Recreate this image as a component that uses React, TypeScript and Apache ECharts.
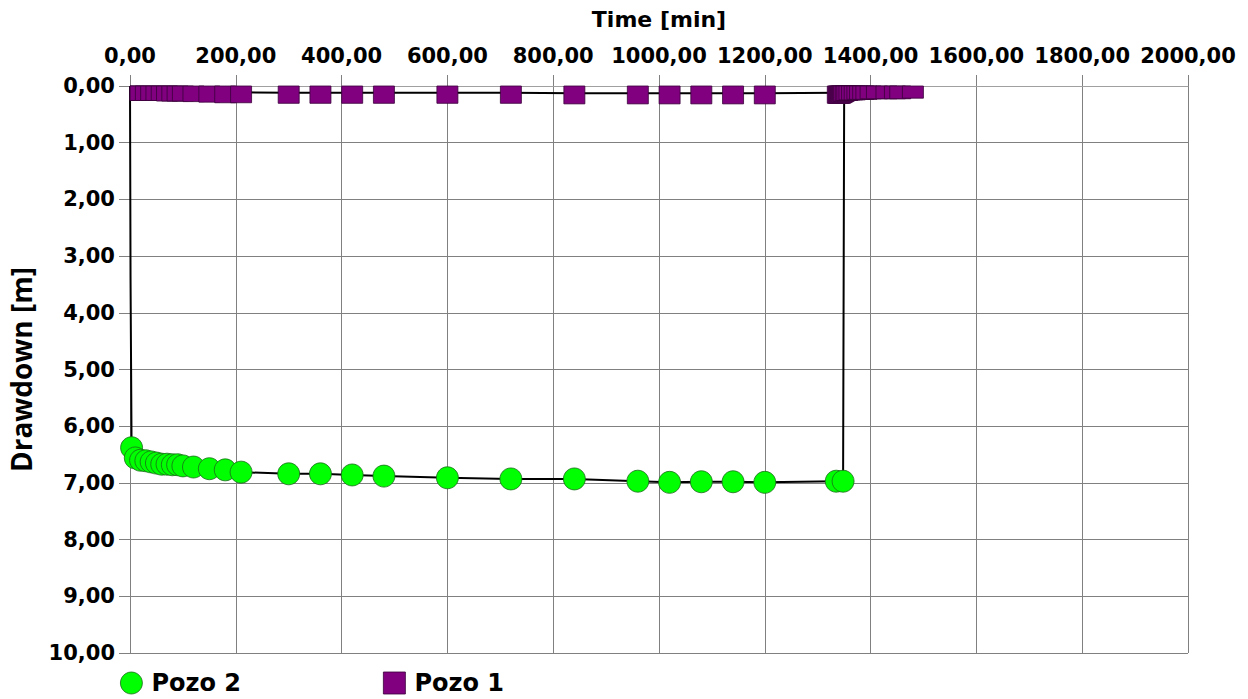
import React, { useEffect, useRef } from "react";
import * as echarts from "echarts";

const xTicksMax = 2000;
const yTicksMax = 10;

// Pozo 2 (pumping well) – time [min], drawdown [m]
const pozo2Times = [0, 1, 3, 10, 20, 30, 40, 50, 60, 70, 80, 90, 100, 120, 150, 180, 210, 300, 360, 420, 480, 600, 720, 840, 960, 1020, 1080, 1140, 1200, 1335, 1348, 1350, 1360, 1400, 1485];
const pozo2Values = [0, 3.37, 6.38, 6.56, 6.6, 6.61, 6.63, 6.65, 6.67, 6.67, 6.68, 6.68, 6.7, 6.72, 6.75, 6.77, 6.81, 6.84, 6.84, 6.86, 6.88, 6.91, 6.93, 6.93, 6.97, 6.99, 6.98, 6.98, 6.99, 6.97, 6.97, 0.25, 0.15, 0.1, 0.08];
const pozo2Hidden = [true, true, false, false, false, false, false, false, false, false, false, false, false, false, false, false, false, false, false, false, false, false, false, false, false, false, false, false, false, false, false, true, true, true, true];

// Pozo 1 (observation well)
const pozo1Times = [0, 10, 20, 30, 40, 50, 60, 70, 80, 90, 100, 120, 150, 180, 210, 300, 360, 420, 480, 600, 720, 840, 960, 1020, 1080, 1140, 1200, 1338, 1340, 1342, 1344, 1346, 1348, 1350, 1353, 1356, 1360, 1365, 1370, 1375, 1380, 1386, 1392, 1400, 1412, 1430, 1446, 1456, 1480];
const pozo1Values = [0.07, 0.07, 0.07, 0.07, 0.07, 0.07, 0.07, 0.08, 0.08, 0.08, 0.08, 0.09, 0.1, 0.11, 0.11, 0.12, 0.12, 0.12, 0.12, 0.12, 0.12, 0.13, 0.13, 0.13, 0.13, 0.13, 0.13, 0.12, 0.12, 0.12, 0.11, 0.1, 0.09, 0.08, 0.07, 0.07, 0.06, 0.06, 0.06, 0.05, 0.05, 0.05, 0.05, 0.04, 0.04, 0.04, 0.04, 0.04, 0.03];

const fmt = (v: number) => v.toFixed(2).replace(".", ",");
const FONT = "DejaVu Sans";
const GREEN = "#00ff00";
const PURPLE = "#800080";

export default function App() {
  const ref = useRef<HTMLDivElement>(null);
  useEffect(() => {
    if (!ref.current) return;
    const chart = echarts.init(ref.current, null, { renderer: "svg" });
    const pozo2Data = pozo2Times.map((t, i) =>
      pozo2Hidden[i]
        ? { value: [t, pozo2Values[i]], symbol: "none" }
        : { value: [t, pozo2Values[i]] }
    );
    const pozo1Data = pozo1Times.map((t, i) => [t, pozo1Values[i]]);
    const squareSize = 21;
    chart.setOption({
      animation: false,
      backgroundColor: "#ffffff",
      textStyle: { fontFamily: FONT },
      grid: { left: 130, right: 60, top: 86, bottom: 46, containLabel: false, outerBoundsMode: "none" },
      legend: {
        left: 120,
        top: 671,
        padding: 0,
        itemWidth: 22,
        itemHeight: 22,
        itemGap: 142,
        textStyle: { fontFamily: FONT, fontWeight: "bold", fontSize: 24, lineHeight: 22, color: "#000", padding: [0, 0, 0, 4] },
        data: [
          { name: "Pozo 2", icon: "circle", itemStyle: { color: GREEN, borderColor: "#1a6b1a", borderWidth: 0.8 } },
          { name: "Pozo 1", icon: "rect", itemStyle: { color: PURPLE, borderColor: "#3a003a", borderWidth: 0.8 } },
        ],
      },
      xAxis: {
        type: "value",
        position: "top",
        min: 0,
        max: xTicksMax,
        interval: 200,
        name: "Time [min]",
        nameLocation: "middle",
        nameGap: 56,
        nameTextStyle: { fontFamily: FONT, fontWeight: "bold", fontSize: 22, color: "#000" },
        axisLine: { show: true, lineStyle: { color: "#a0a0a0", width: 1 } },
        axisTick: { show: true, length: 11, lineStyle: { color: "#808080" } },
        axisLabel: { formatter: fmt, fontFamily: FONT, fontWeight: "bold", fontSize: 21, color: "#000", margin: 20 },
        splitLine: { show: true, lineStyle: { color: "#808080", width: 1 } },
      },
      yAxis: {
        type: "value",
        inverse: true,
        min: 0,
        max: yTicksMax,
        interval: 1,
        name: "Drawdown [m]",
        nameLocation: "middle",
        nameGap: 95,
        nameRotate: 90,
        nameTextStyle: { fontFamily: "Open Sans", fontWeight: "bold", fontSize: 28, color: "#000" },
        axisLine: { show: true, lineStyle: { color: "#808080", width: 1 } },
        axisTick: { show: true, length: 11, lineStyle: { color: "#808080" } },
        axisLabel: { formatter: fmt, fontFamily: FONT, fontWeight: "bold", fontSize: 21, color: "#000", margin: 15 },
        splitLine: { show: true, lineStyle: { color: "#808080", width: 1 } },
      },
      series: [
        {
          name: "Pozo 2",
          type: "line",
          data: pozo2Data,
          symbol: "circle",
          symbolSize: 22,
          showAllSymbol: true,
          lineStyle: { color: "#000", width: 2 },
          itemStyle: { color: GREEN, borderColor: "#1a6b1a", borderWidth: 0.8, opacity: 1 },
          z: 2,
        },
        {
          name: "Pozo 1",
          type: "line",
          data: pozo1Data,
          symbol: "none",
          lineStyle: { color: "#000", width: 2 },
          itemStyle: { color: PURPLE },
          z: 3,
        },
        {
          name: "Pozo 1",
          type: "custom",
          data: pozo1Data,
          encode: { x: 0, y: 1 },
          z: 4,
          renderItem: (params: any, api: any) => {
            const p = api.coord([api.value(0), api.value(1)]);
            const cs = params.coordSys;
            const shape = echarts.graphic.clipRectByRect(
              { x: p[0] - squareSize / 2, y: p[1] - squareSize / 2, width: squareSize, height: squareSize },
              { x: cs.x, y: cs.y, width: cs.width, height: cs.height }
            );
            if (!shape) return null;
            return {
              type: "rect",
              shape,
              style: { fill: PURPLE, stroke: "#3a003a", lineWidth: 0.8 },
            };
          },
        },
      ],
    });
    return () => chart.dispose();
  }, []);
  return (
    <div
      ref={ref}
      style={{ position: "fixed", left: 0, top: 0, width: 1248, height: 699, background: "#fff" }}
    />
  );
}
